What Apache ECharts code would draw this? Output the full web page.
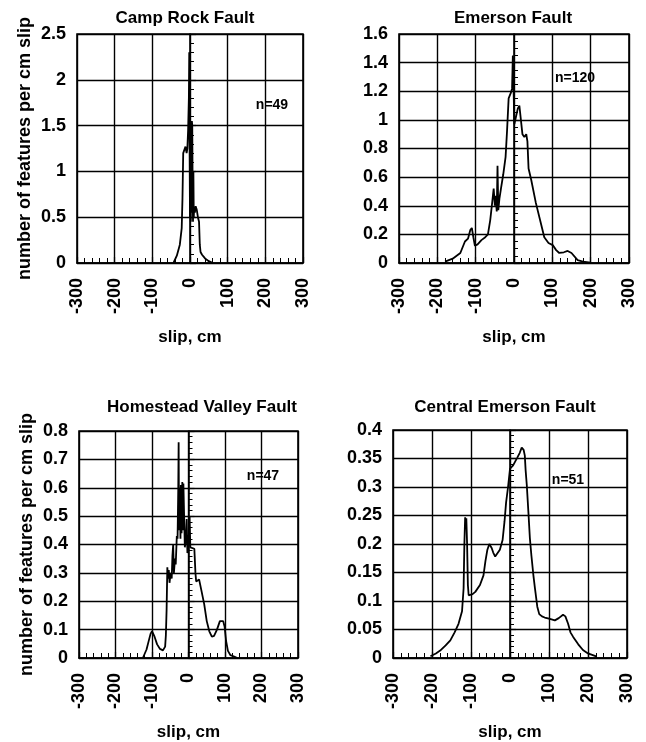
<!DOCTYPE html>
<html><head><meta charset="utf-8">
<script src="https://cdn.jsdelivr.net/npm/echarts@6/dist/echarts.min.js"></script>
<style>html,body{margin:0;padding:0;background:#fff}#c{width:646px;height:742px}</style>
</head><body><div id="c"></div>
<script>
// ---- data (slip cm, features per cm slip) ----
const panelTitles = ['Camp Rock Fault', 'Emerson Fault', 'Homestead Valley Fault', 'Central Emerson Fault'];
const panelCounts = ['n=49', 'n=120', 'n=47', 'n=51'];
const xTickLabels = [-300, -200, -100, 0, 100, 200, 300];
const yMax = [2.5, 1.6, 0.8, 0.4];
const yStep = [0.5, 0.2, 0.1, 0.05];

const campRock = [[-44,0],[-35,0.08],[-27,0.2],[-22,0.38],[-20,0.7],[-18,1.2],[-15,1.22],[-12,1.27],[-9,1.2],[-7,1.25],[-5,1.45],[-3,1.8],[-2,2.3],[-1,1.2],[0,0.5],[1,1.3],[2,0.45],[3,1.0],[4,0.55],[5,1.55],[6,1.5],[7,0.8],[8,0.45],[9,1.0],[10,0.5],[11,0.6],[13,0.55],[15,0.62],[18,0.58],[21,0.5],[24,0.45],[26,0.2],[28,0.12],[32,0.09],[40,0.05],[50,0.02],[61,0]];

const emerson = [[-180,0.01],[-160,0.03],[-140,0.07],[-128,0.15],[-120,0.17],[-114,0.23],[-110,0.245],[-106,0.18],[-102,0.12],[-95,0.13],[-85,0.16],[-75,0.18],[-68,0.2],[-62,0.3],[-57,0.42],[-53,0.52],[-50,0.4],[-48,0.47],[-45,0.36],[-43,0.68],[-41,0.37],[-38,0.45],[-34,0.52],[-28,0.62],[-22,0.74],[-18,0.93],[-14,1.15],[-12,1.16],[-8,1.19],[-5,1.22],[-3,1.45],[-1,1.2],[1,0.97],[5,0.97],[10,1.08],[14,1.1],[18,1.0],[22,0.9],[27,0.88],[32,0.9],[35,0.85],[38,0.66],[45,0.58],[57,0.42],[68,0.3],[79,0.18],[90,0.14],[101,0.125],[110,0.09],[118,0.07],[130,0.075],[140,0.084],[150,0.07],[166,0.02],[180,0.01],[200,0.003]];

const homestead = [[-125,0],[-115,0.03],[-110,0.055],[-104,0.085],[-100,0.095],[-93,0.075],[-86,0.048],[-78,0.032],[-70,0.027],[-64,0.04],[-62,0.08],[-60,0.17],[-58,0.32],[-56,0.28],[-54,0.31],[-52,0.265],[-49,0.3],[-46,0.28],[-44,0.36],[-42,0.4],[-40,0.3],[-37,0.35],[-35,0.33],[-32,0.43],[-30,0.42],[-28,0.6],[-27,0.76],[-26,0.45],[-24,0.6],[-22,0.42],[-21,0.61],[-19,0.44],[-17,0.62],[-15,0.45],[-14,0.615],[-12,0.5],[-10,0.39],[-7,0.42],[-5,0.49],[-3,0.37],[0,0.4],[3,0.5],[5,0.39],[10,0.39],[16,0.385],[19,0.3],[21,0.27],[25,0.27],[29,0.277],[35,0.24],[43,0.19],[50,0.13],[57,0.094],[64,0.075],[70,0.078],[78,0.1],[86,0.13],[90,0.135],[95,0.13],[99,0.11],[103,0.06],[108,0.025],[115,0.01],[125,0.005],[134,0]];

const centralEmerson = [[-204,0.003],[-190,0.008],[-179,0.013],[-165,0.022],[-153,0.031],[-142,0.045],[-132,0.06],[-123,0.082],[-119,0.122],[-117,0.2],[-115,0.247],[-113,0.23],[-112,0.245],[-110,0.2],[-108,0.128],[-106,0.11],[-104,0.108],[-96,0.112],[-89,0.116],[-77,0.128],[-68,0.145],[-63,0.17],[-58,0.19],[-53,0.2],[-47,0.193],[-43,0.185],[-38,0.178],[-34,0.176],[-26,0.19],[-19,0.207],[-14,0.24],[-10,0.273],[-5,0.3],[0,0.332],[8,0.338],[19,0.352],[25,0.36],[30,0.369],[35,0.365],[38,0.355],[40,0.33],[43,0.304],[47,0.258],[51,0.21],[55,0.179],[60,0.145],[64,0.122],[70,0.09],[75,0.077],[82,0.073],[89,0.071],[100,0.069],[115,0.066],[125,0.07],[136,0.076],[142,0.073],[149,0.06],[155,0.045],[162,0.037],[175,0.024],[187,0.014],[200,0.008],[221,0.003]];

const seriesData = [campRock, emerson, homestead, centralEmerson];

// ---- layout ----
const FONT = 'Liberation Sans, Arial, Helvetica, sans-serif';
const grids = [
  {left: 77, top: 34, width: 226, height: 229},
  {left: 399, top: 34, width: 230, height: 229},
  {left: 79, top: 431, width: 219, height: 234},
  {left: 393, top: 430, width: 234, height: 233}
];
const titlePos = [[185, 18], [513, 18], [202, 407], [505, 407]];
const countPos = [[272, 105], [575, 78], [263, 476], [568, 480]];
const minorSplits = [5, 4, 5, 5];

const chart = echarts.init(document.getElementById('c'), null, {renderer: 'canvas'});
const gridLine = {show: true, lineStyle: {color: '#000', width: 1.4}};

const option = {
  backgroundColor: '#fff',
  animation: false,
  grid: grids.map(g => Object.assign({show: true, borderColor: '#000', borderWidth: 1.6, backgroundColor: 'transparent'}, g)),
  xAxis: grids.map((g, i) => ({
    type: 'value', gridIndex: i,
    min: xTickLabels[0], max: xTickLabels[xTickLabels.length - 1], interval: 100,
    name: 'slip, cm', nameLocation: 'middle', nameGap: 66,
    nameTextStyle: {fontFamily: FONT, fontSize: 17, fontWeight: 'bold', color: '#000'},
    axisLine: {show: true, onZero: false, lineStyle: {color: '#000', width: 1.6}},
    axisTick: {show: true, inside: true, length: 6, lineStyle: {color: '#000', width: 1.2}},
    minorTick: {show: true, splitNumber: 5, length: 5, lineStyle: {color: '#000', width: 1}},
    axisLabel: {rotate: 90, margin: 15, fontFamily: FONT, fontSize: 18, fontWeight: 'bold', color: '#000'},
    splitLine: gridLine
  })),
  yAxis: grids.map((g, i) => ({
    type: 'value', gridIndex: i,
    min: 0, max: yMax[i], interval: yStep[i],
    name: (i === 0 || i === 2) ? 'number of features per cm slip' : '',
    nameLocation: 'middle', nameGap: 43,
    nameTextStyle: {fontFamily: FONT, fontSize: 18, fontWeight: 'bold', color: '#000'},
    axisLine: {show: true, lineStyle: {color: '#000', width: 1.6}},
    axisTick: {show: true, inside: true, length: 6, lineStyle: {color: '#000', width: 1.2}},
    minorTick: {show: true, splitNumber: minorSplits[i], length: 4, lineStyle: {color: '#000', width: 1}},
    axisLabel: {margin: 11, fontFamily: FONT, fontSize: 18, fontWeight: 'bold', color: '#000'},
    splitLine: gridLine
  })),
  series: seriesData.map((d, i) => ({
    type: 'line', xAxisIndex: i, yAxisIndex: i, data: d,
    showSymbol: false, smooth: false,
    lineStyle: {color: '#000', width: 1.8}
  })),
  graphic: [
    ...panelTitles.map((t, i) => ({
      type: 'text', x: titlePos[i][0], y: titlePos[i][1],
      style: {text: t, fill: '#000', fontFamily: FONT, fontSize: 17, fontWeight: 'bold', align: 'center', verticalAlign: 'middle'}
    })),
    ...panelCounts.map((t, i) => ({
      type: 'text', x: countPos[i][0], y: countPos[i][1],
      style: {text: t, fill: '#000', fontFamily: FONT, fontSize: 14, fontWeight: 'bold', align: 'center', verticalAlign: 'middle'}
    }))
  ]
};
chart.setOption(option);
</script></body></html>
